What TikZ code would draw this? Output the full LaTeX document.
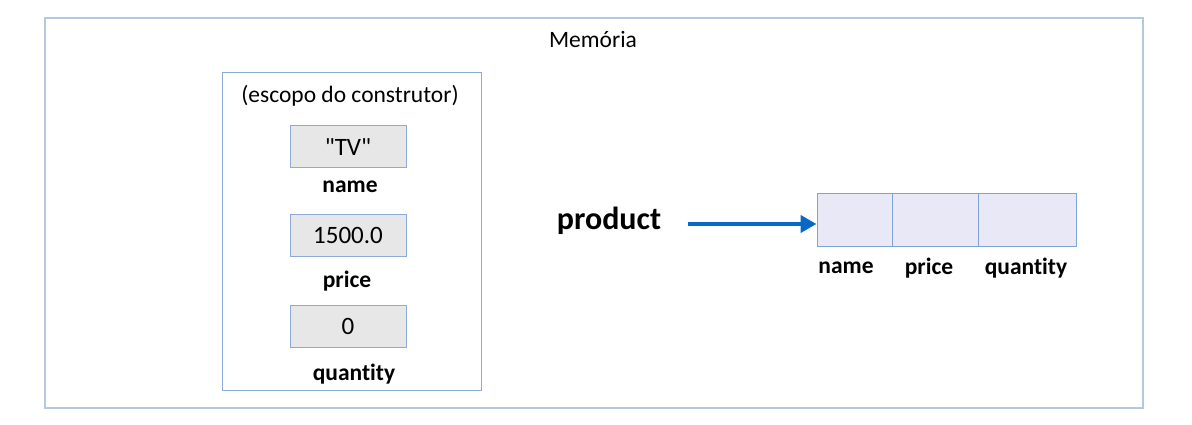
\documentclass[tikz,border=0pt]{standalone}
\usepackage{fontspec}
\setmainfont{Carlito}[Ligatures={TeXOff,NoCommon,NoContextual}]
\usetikzlibrary{arrows.meta}
\definecolor{frame}{HTML}{B4C8DE}
\definecolor{boxline}{HTML}{8EAADB}
\definecolor{valfill}{HTML}{E7E7E7}
\definecolor{cellfill}{HTML}{E8E8F6}
\definecolor{cellline}{HTML}{7FA3D8}
\definecolor{arrowblue}{HTML}{0868C8}
\tikzset{
  txt/.style={inner sep=0pt, anchor=center, font=\fontsize{23.5}{25}\selectfont},
  lbl/.style={txt, font=\fontsize{23.5}{25}\selectfont\bfseries},
  valbox/.style={draw=boxline, fill=valfill, line width=1pt, minimum width=116pt, minimum height=42pt, inner sep=0pt, font=\fontsize{25}{27}\selectfont},
  cell/.style={draw=cellline, fill=cellfill, line width=1pt, minimum height=52pt, inner sep=0pt},
}
\begin{document}
\begin{tikzpicture}[x=1pt,y=-1pt]
\useasboundingbox (0,0) rectangle (1192,425);
\fill[white] (0,0) rectangle (1192,425);
% outer frame
\draw[frame, line width=1.2pt] (45,18) rectangle (1143,408);
\node[txt] (mem) at (593,40) {Memória};
% constructor scope
\draw[boxline, line width=1pt] (222,73) rectangle (481,390);
\node[txt] (scope) at (350,96) {(escopo do construtor)};
\node[valbox] (v1) at (348,147) {"TV"};
\node[lbl] (l1) at (350,187) {name};
\node[valbox] (v2) at (348,235) {1500.0};
\node[lbl] (l2) at (347,281) {price};
\node[valbox] (v3) at (348,326) {0};
\node[lbl] (l3) at (354,374) {quantity};
% product
\node[lbl, font=\fontsize{32}{34}\selectfont\bfseries] (prod) at (609,221) {product};
\node[cell, minimum width=75pt] (c1) at (854.5,220) {};
\node[cell, minimum width=86pt] (c2) at (935,220) {};
\node[cell, minimum width=98pt] (c3) at (1027,220) {};
\coordinate (astart) at (688,224);
\draw[arrowblue, line width=4.5pt, -{Triangle[length=16pt,width=17pt]}] (astart) -- (c1.west |- astart);
\node[lbl] (n1) at (846,268) {name};
\node[lbl] (n2) at (929,268) {price};
\node[lbl] (n3) at (1026,268) {quantity};
\end{tikzpicture}
\end{document}
